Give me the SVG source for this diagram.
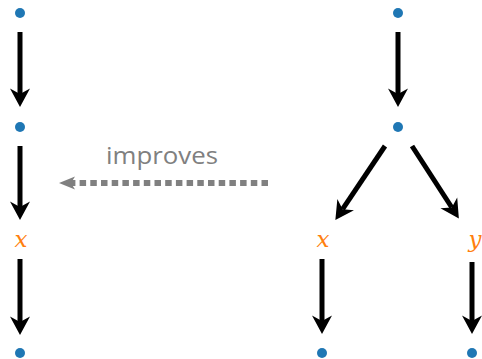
<svg xmlns="http://www.w3.org/2000/svg" width="482" height="359" viewBox="0 0 482 359">
  <style>
    .dot { fill: #1f77b4; }
    .edge { stroke: #000; stroke-width: 5; fill: none; marker-end: url(#head); }
    .var { font-family: "DejaVu Serif", "Liberation Serif", serif; font-style: italic; font-size: 23px; fill: #ff7f0e; text-anchor: middle; }
    .lbl { font-family: "Open Sans", "Liberation Sans", sans-serif; font-size: 23px; fill: #808080; text-anchor: middle; }
  </style>
  <defs>
    <marker id="head" markerUnits="userSpaceOnUse" viewBox="-6 -11 20 22" refX="0" refY="0" markerWidth="20" markerHeight="22" orient="auto">
      <path d="M13,0 L-5.5,-10 L0,0 L-5.5,10 Z" fill="#000"/>
    </marker>
    <marker id="headGray" markerUnits="userSpaceOnUse" viewBox="-6 -10 20 20" refX="0" refY="0" markerWidth="20" markerHeight="20" orient="auto">
      <path d="M12,0 L-4,-6.5 L0,0 L-4,6.5 Z" fill="#808080"/>
    </marker>
  </defs>

  <!-- edges -->
  <g id="connectors">
    <line class="edge" x1="20" y1="32" x2="20" y2="94"/>
    <line class="edge" x1="20" y1="146" x2="20" y2="207"/>
    <line class="edge" x1="20" y1="259" x2="20" y2="322"/>
    <line class="edge" x1="398" y1="32" x2="398" y2="94"/>
    <line class="edge" x1="385" y1="146" x2="342.6" y2="209.2"/>
    <line class="edge" x1="412" y1="146" x2="451.8" y2="207.5"/>
    <line class="edge" x1="322" y1="259" x2="322" y2="321"/>
    <line class="edge" x1="472" y1="262" x2="472" y2="321"/>
    <line x1="268" y1="183" x2="71" y2="183" stroke="#808080" stroke-width="6" stroke-dasharray="6.5 4.2" marker-end="url(#headGray)"/>
  </g>

  <g id="label-improves">
    <text class="lbl" x="162" y="164" textLength="112" lengthAdjust="spacingAndGlyphs">improves</text>
  </g>

  <!-- left chain -->
  <g id="l0"><circle class="dot" cx="20" cy="13" r="5"/></g>
  <g id="l1"><circle class="dot" cx="20" cy="127" r="5"/></g>
  <g id="lx"><text class="var" x="21" y="247">x</text></g>
  <g id="l3"><circle class="dot" cx="20" cy="353" r="5"/></g>

  <!-- right tree -->
  <g id="r0"><circle class="dot" cx="398" cy="13" r="5"/></g>
  <g id="r1"><circle class="dot" cx="398" cy="127" r="5"/></g>
  <g id="rx"><text class="var" x="323" y="247">x</text></g>
  <g id="ry"><text class="var" x="475" y="247">y</text></g>
  <g id="rx2"><circle class="dot" cx="322" cy="353" r="5"/></g>
  <g id="ry2"><circle class="dot" cx="472" cy="353" r="5"/></g>
</svg>
